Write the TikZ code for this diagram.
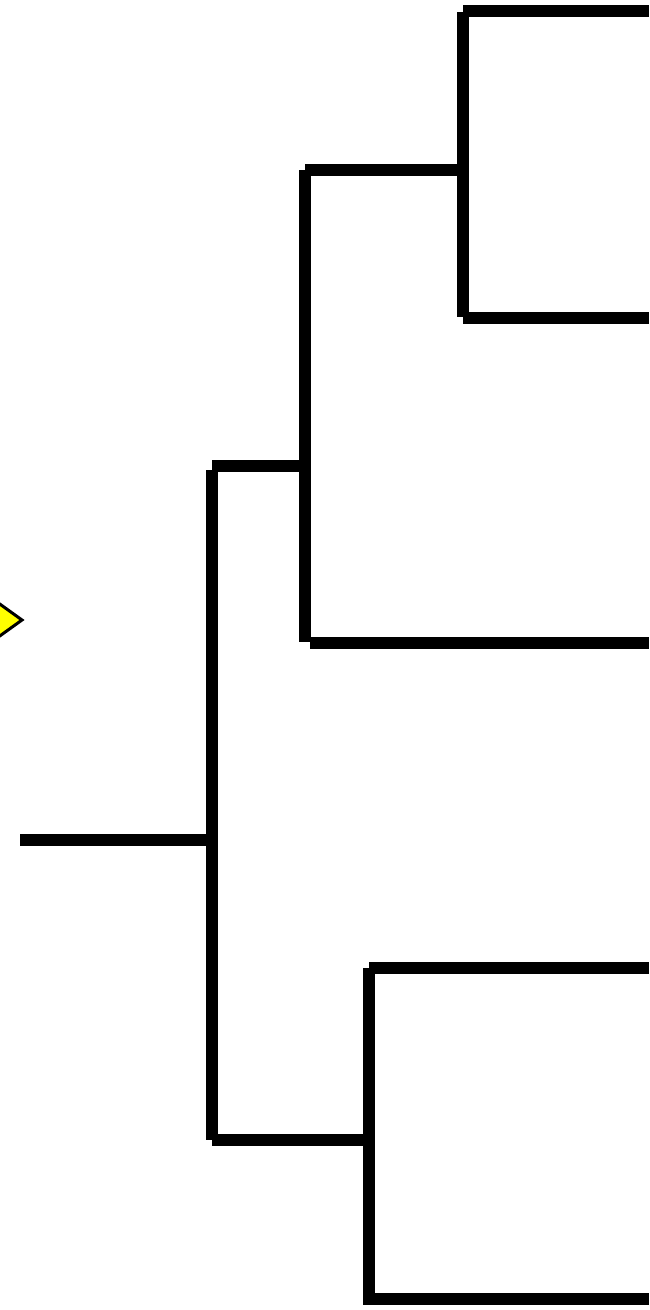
\documentclass[tikz,border=0pt]{standalone}
\usepackage{tikz}
\usetikzlibrary{positioning}
\usepackage{xcolor}
\definecolor{markeryellow}{RGB}{255,255,0}

\begin{document}
\begin{tikzpicture}[x=0.02cm,y=-0.02cm,
  branch/.style={line width=0.245cm,line cap=butt}]
\useasboundingbox (0,0) rectangle (649,1310);
% marker on the left edge
\draw[line width=0.06cm,fill=markeryellow] (-10,597) -- (22,620) -- (-10,643) -- cycle;
% root
\coordinate (stem) at (20,840);
\coordinate (root) at (212,840);
\coordinate (rootTop) at (212,470);
\coordinate (rootBot) at (212,1140);
\draw[branch] (stem) -- (root);
\draw[branch] (rootTop) -- (rootBot);
% upper clade
\coordinate (upL) at (212,466);
\coordinate (upR) at (305,466);
\coordinate (upTop) at (305,170);
\coordinate (upBot) at (305,642);
\draw[branch] (upL) -- (upR);
\draw[branch] (upTop) -- (upBot);
\coordinate (leafC) at (310,643);
\coordinate (leafCend) at (649,643);
\draw[branch] (leafC) -- (leafCend);
% upper-upper pair
\coordinate (uuL) at (305,170);
\coordinate (uuR) at (463,170);
\coordinate (uuTop) at (463,12);
\coordinate (uuBot) at (463,317);
\draw[branch] (uuL) -- (uuR);
\draw[branch] (uuTop) -- (uuBot);
\coordinate (leafA) at (463,11);
\coordinate (leafAend) at (649,11);
\coordinate (leafB) at (463,318);
\coordinate (leafBend) at (649,318);
\draw[branch] (leafA) -- (leafAend);
\draw[branch] (leafB) -- (leafBend);
% lower pair
\coordinate (loL) at (212,1140);
\coordinate (loR) at (369,1140);
\coordinate (loTop) at (369,968);
\coordinate (loBot) at (369,1304);
\draw[branch] (loL) -- (loR);
\draw[branch] (loTop) -- (loBot);
\coordinate (leafD) at (369,968);
\coordinate (leafDend) at (649,968);
\coordinate (leafE) at (363,1299);
\coordinate (leafEend) at (649,1299);
\draw[branch] (leafD) -- (leafDend);
\draw[branch] (leafE) -- (leafEend);
\end{tikzpicture}
\end{document}
